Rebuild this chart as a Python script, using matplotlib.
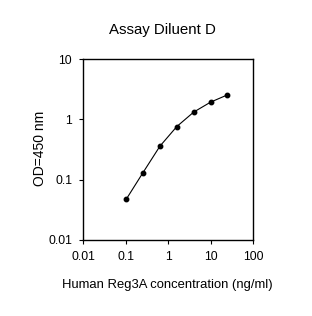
import matplotlib
matplotlib.use("Agg")
import matplotlib.pyplot as plt
import numpy as np

plt.rcParams['font.family'] = ['Liberation Sans', 'DejaVu Sans']

conc = [0.1024, 0.256, 0.64, 1.6, 4.0, 10.0, 25.0]
od = [0.047, 0.131, 0.359, 0.76, 1.32, 1.93, 2.55]

x_ticks = [0.01, 0.1, 1, 10, 100]
x_labels = ["0.01", "0.1", "1", "10", "100"]
y_ticks = [0.01, 0.1, 1, 10]
y_labels = ["0.01", "0.1", "1", "10"]


def plot_curve():
    fig = plt.figure(figsize=(3.12, 3.16), dpi=100)
    ax = fig.add_axes([0.267, 0.241, 0.544, 0.572])

    ax.plot(conc, od, color="black", linewidth=0.8, marker="o", markersize=3.2)

    ax.set_xscale("log")
    ax.set_yscale("log")
    ax.set_xlim(0.01, 100)
    ax.set_ylim(0.01, 10)
    ax.set_xticks(x_ticks)
    ax.set_xticklabels(x_labels)
    ax.set_yticks(y_ticks)
    ax.set_yticklabels(y_labels)
    ax.minorticks_off()
    ax.tick_params(direction="out", length=3, width=0.8, labelsize=8.8, pad=5)

    for s in ax.spines.values():
        s.set_linewidth(1.0)

    fig.text(0.52, 0.905, "Assay Diluent D", ha="center", va="center", fontsize=10.8)
    fig.text(0.537, 0.098, "Human Reg3A concentration (ng/ml)", ha="center", va="center", fontsize=9.4)
    fig.text(0.128, 0.532, "OD=450 nm", ha="center", va="center", rotation=90, fontsize=10)

    fig.savefig("out.png", dpi=100)


if __name__ == "__main__":
    plot_curve()
